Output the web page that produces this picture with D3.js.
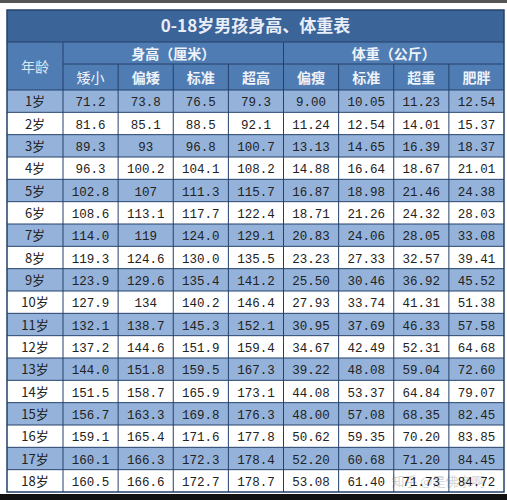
<!DOCTYPE html>
<html><head><meta charset="utf-8">
<script src="https://cdn.jsdelivr.net/npm/d3@7"></script>
<style>body{margin:0;background:#fff}</style>
</head><body><svg id="c" width="507" height="500"></svg>
<script>
// table data
const ages = ["1岁","2岁","3岁","4岁","5岁","6岁","7岁","8岁","9岁","10岁","11岁","12岁","13岁","14岁","15岁","16岁","17岁","18岁"];
const subHeads = ["矮小","偏矮","标准","超高","偏瘦","标准","超重","肥胖"];
const hShort = ["71.2","81.6","89.3","96.3","102.8","108.6","114.0","119.3","123.9","127.9","132.1","137.2","144.0","151.5","156.7","159.1","160.1","160.5"];
const hLow = ["73.8","85.1","93","100.2","107","113.1","119","124.6","129.6","134","138.7","144.6","151.8","158.7","163.3","165.4","166.3","166.6"];
const hStd = ["76.5","88.5","96.8","104.1","111.3","117.7","124.0","130.0","135.4","140.2","145.3","151.9","159.5","165.9","169.8","171.6","172.3","172.7"];
const hTall = ["79.3","92.1","100.7","108.2","115.7","122.4","129.1","135.5","141.2","146.4","152.1","159.4","167.3","173.1","176.3","177.8","178.4","178.7"];
const wThin = ["9.00","11.24","13.13","14.88","16.87","18.71","20.83","23.23","25.50","27.93","30.95","34.67","39.22","44.08","48.00","50.62","52.20","53.08"];
const wStd = ["10.05","12.54","14.65","16.64","18.98","21.26","24.06","27.33","30.46","33.74","37.69","42.49","48.08","53.37","57.08","59.35","60.68","61.40"];
const wOver = ["11.23","14.01","16.39","18.67","21.46","24.32","28.05","32.57","36.92","41.31","46.33","52.31","59.04","64.84","68.35","70.20","71.20","71.73"];
const wFat = ["12.54","15.37","18.37","21.01","24.38","28.03","33.08","39.41","45.52","51.38","57.58","64.68","72.60","79.07","82.45","83.85","84.45","84.72"];
const series = [hShort,hLow,hStd,hTall,wThin,wStd,wOver,wFat];

const svg = d3.select("#c");
const L = 7, R = 504, T = 10, B = 492;
const lineC = "#24406b", titleBg = "#3b6499", headBg = "#4f7db3", oddBg = "#95b3da";

svg.append("rect").attr("x",0).attr("y",0).attr("width",507).attr("height",3).attr("fill","#555");
svg.append("rect").attr("x",0).attr("y",494).attr("width",507).attr("height",6).attr("fill","#111");

const ageW = 56;
const x = d3.scaleBand().domain(d3.range(8)).range([L+ageW, R]);
const y = d3.scaleBand().domain(d3.range(ages.length)).range([90, B]);

// title and header rows
svg.append("rect").attr("x",L).attr("y",T).attr("width",R-L).attr("height",32).attr("fill",titleBg);
svg.append("rect").attr("x",L).attr("y",42).attr("width",R-L).attr("height",48).attr("fill",headBg);
svg.append("text").attr("x",(L+R)/2).attr("y",32).attr("text-anchor","middle")
  .attr("font-family","Noto Sans CJK SC").attr("font-weight","bold").attr("font-size",17).attr("fill","#e8eef8")
  .text("0-18岁男孩身高、体重表");

const hf = "Noto Sans CJK SC";
svg.append("text").attr("x",L+ageW/2).attr("y",72).attr("text-anchor","middle").attr("font-family",hf)
  .attr("font-size",14).attr("fill","#dde7f5").text("年龄");
svg.append("text").attr("x",(x(0)+x(3)+x.bandwidth())/2).attr("y",59).attr("text-anchor","middle").attr("font-family",hf)
  .attr("font-weight","bold").attr("font-size",14).attr("fill","#eef3fa").text("身高（厘米）");
svg.append("text").attr("x",(x(4)+x(7)+x.bandwidth())/2).attr("y",59).attr("text-anchor","middle").attr("font-family",hf)
  .attr("font-weight","bold").attr("font-size",14).attr("fill","#eef3fa").text("体重（公斤）");
svg.selectAll(".sh").data(subHeads).join("text")
  .attr("x",(d,i)=>x(i)+x.bandwidth()/2).attr("y",83).attr("text-anchor","middle")
  .attr("font-family",hf).attr("font-weight",(d,i)=>i?"bold":"normal").attr("font-size",14).attr("fill","#eef3fa").text(d=>d);

// body rows
svg.selectAll(".row").data(ages).join("rect")
  .attr("x",L).attr("y",(d,i)=>y(i)).attr("width",R-L).attr("height",y.bandwidth())
  .attr("fill",(d,i)=>i%2===0?oddBg:"#fff");

// watermark (under the cell text)
svg.append("text").attr("x",438).attr("y",486).attr("text-anchor","middle").attr("font-family",hf)
  .attr("font-size",13).attr("fill","#c8c8c8").attr("fill-opacity",0.8)
  .text("知乎 @是佛亲啊");

svg.selectAll(".age").data(ages).join("text")
  .attr("x",L+ageW/2).attr("y",(d,i)=>y(i)+y.bandwidth()/2+5).attr("text-anchor","middle")
  .attr("font-family",hf).attr("font-size",13).attr("fill","#222").text(d=>d);
series.forEach((s,j)=>{
  svg.selectAll(".v"+j).data(s).join("text")
    .attr("x",x(j)+x.bandwidth()/2).attr("y",(d,i)=>y(i)+y.bandwidth()/2+5).attr("text-anchor","middle")
    .attr("font-family","Liberation Mono").attr("font-size",12.5).attr("fill","#222").text(d=>d);
});

// grid lines
const g = svg.append("g").attr("stroke",lineC).attr("fill","none");
g.append("rect").attr("x",L).attr("y",T).attr("width",R-L).attr("height",B-T).attr("stroke-width",1.5);
g.append("line").attr("x1",L).attr("x2",R).attr("y1",42).attr("y2",42);
g.append("line").attr("x1",L+ageW).attr("x2",R).attr("y1",64).attr("y2",64);
g.append("line").attr("x1",L).attr("x2",R).attr("y1",90).attr("y2",90);
ages.forEach((d,i)=>{ if(i) g.append("line").attr("x1",L).attr("x2",R).attr("y1",y(i)).attr("y2",y(i)); });
g.append("line").attr("x1",L+ageW).attr("x2",L+ageW).attr("y1",42).attr("y2",B);
d3.range(1,8).forEach(j=>{
  g.append("line").attr("x1",x(j)).attr("x2",x(j)).attr("y1",j===4?42:64).attr("y2",B);
});
</script></body></html>
